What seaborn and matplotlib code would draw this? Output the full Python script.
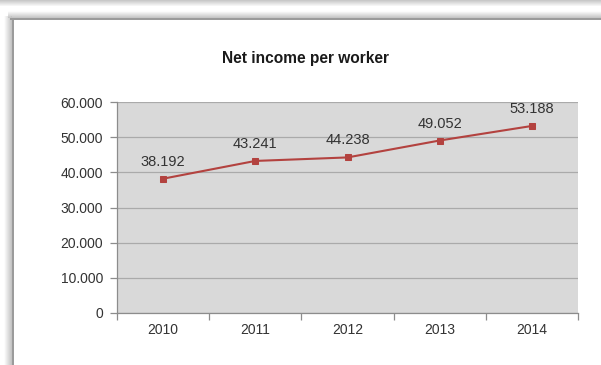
import numpy as np
import pandas as pd
import matplotlib
matplotlib.use("Agg")
import matplotlib.pyplot as plt
from matplotlib.ticker import FuncFormatter, FixedLocator
import seaborn as sns

# Data
years = ["2010", "2011", "2012", "2013", "2014"]
net_income = [38192, 43241, 44238, 49052, 53188]
y_ticks = [0, 10000, 20000, 30000, 40000, 50000, 60000]
title = "Net income per worker"

W, H, DPI = 601, 365, 100

sns.set_theme(style="white")
plt.rcParams["font.family"] = ["Liberation Sans", "DejaVu Sans"]

fig = plt.figure(figsize=(W / DPI, H / DPI), dpi=DPI)
fig.patch.set_facecolor("white")


def thousands(v, _pos=None):
    return f"{int(round(v)):,}".replace(",", ".")


# Window frame with soft drop shadow (background image in pixel space)
bg = np.full((H, W), 255.0)
# bottom edge of the window above
for r in range(0, 6):
    bg[r, :] = np.minimum(bg[r, :], 200 + (255 - 200) * r / 6)
# top shadow of this frame
for i, r in enumerate(range(11, 18)):
    bg[r, 8:] = np.minimum(bg[r, 8:], 252 - 9 * i)
bg[18:20, 10:] = np.minimum(bg[18:20, 10:], 155)
# left shadow of this frame
for i, c in enumerate(range(4, 12)):
    bg[16:, c] = np.minimum(bg[16:, c], 252 - 8 * i)
bg[18:, 12:14] = np.minimum(bg[18:, 12:14], 155)
rgb = np.repeat(bg[:, :, None] / 255.0, 3, axis=2)
fig.figimage(rgb, xo=0, yo=0, origin="upper", zorder=-10)

# Plot area
left, right, top, bottom = 117, 578, 102, 313
ax = fig.add_axes([left / W, (H - bottom) / H, (right - left) / W, (bottom - top) / H])
ax.set_zorder(1)
ax.set_facecolor("#d9d9d9")

df = pd.DataFrame({"pos": np.arange(len(years)), "value": net_income})
sns.lineplot(data=df, x="pos", y="value", ax=ax, color="#b3423f", linewidth=1.5,
             marker="s", markersize=3.8, markeredgecolor="#b3423f", zorder=3)

ax.set_xlim(-0.5, len(years) - 0.5)
ax.set_ylim(y_ticks[0], y_ticks[-1])
ax.set_xlabel("")
ax.set_ylabel("")

# Gridlines
ax.yaxis.set_major_locator(FixedLocator(y_ticks))
ax.yaxis.set_major_formatter(FuncFormatter(thousands))
ax.grid(axis="y", color="#aaaaaa", linewidth=0.9)
ax.grid(axis="x", visible=False)
ax.set_axisbelow(True)

# Category boundaries as tick marks, labels at centers
ax.set_xticks(np.arange(-0.5, len(years), 1.0))
ax.set_xticklabels([])
ax.set_xticks(np.arange(len(years)), minor=True)
ax.set_xticklabels(years, minor=True)
ax.tick_params(axis="x", which="major", direction="out", length=5, width=0.9,
               color="#8c8c8c", bottom=True)
ax.tick_params(axis="x", which="minor", length=0, pad=7, labelsize=10, labelcolor="#333333")
ax.tick_params(axis="y", direction="out", length=5, width=0.9, color="#8c8c8c",
               left=True, pad=5, labelsize=10, labelcolor="#333333")

for side in ["top", "right"]:
    ax.spines[side].set_visible(False)
for side in ["left", "bottom"]:
    ax.spines[side].set_visible(True)
    ax.spines[side].set_color("#8c8c8c")
    ax.spines[side].set_linewidth(0.9)

# Value labels
for x, v in zip(df["pos"], df["value"]):
    ax.annotate(thousands(v), (x, v), xytext=(0, 17), textcoords="offset pixels",
                ha="center", va="center", fontsize=10.5, color="#333333", zorder=4)

fig.text(306 / W, 1 - 59 / H, title, ha="center", va="center",
         fontsize=11.2, fontweight="bold", color="#1a1a1a")

fig.savefig("out.png", dpi=DPI, facecolor="white")
